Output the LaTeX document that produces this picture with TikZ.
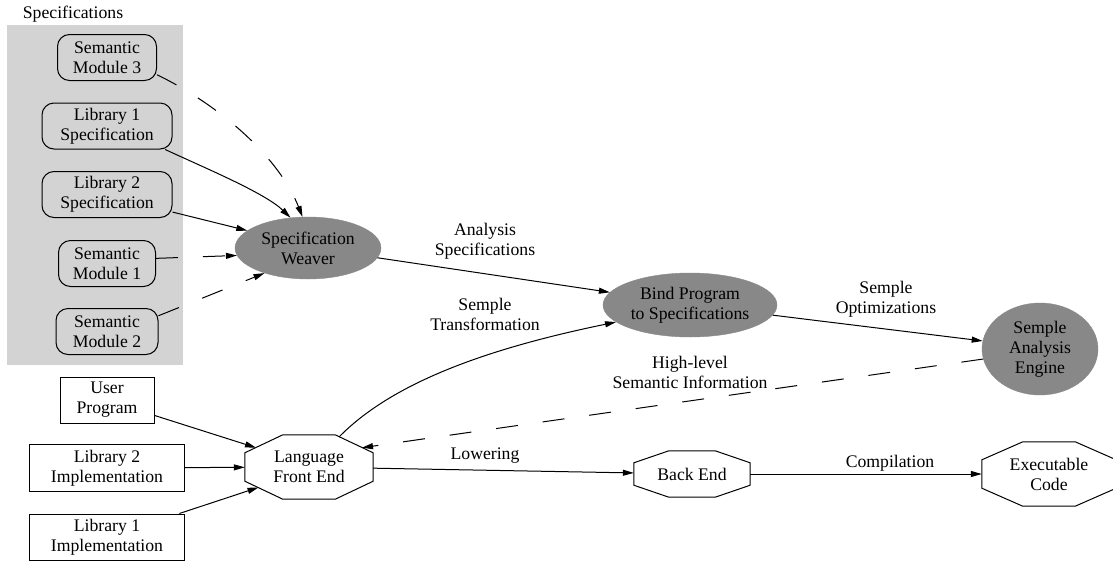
\documentclass[tikz,border=0pt]{standalone}
\usepackage{fontspec}
\setmainfont{Liberation Serif}
\usetikzlibrary{shapes.geometric,arrows.meta,calc}

\definecolor{panelgray}{RGB}{211,211,211}
\definecolor{enginegray}{RGB}{136,136,136}
\newcommand{\dfont}{\fontsize{17.7pt}{20pt}\selectfont}

% octagon outline around a node: #1 node, #2 chamfer width, #3 chamfer height
\newcommand{\octoutline}[3]{%
  \draw[octline] ($(#1.north west)+(#2,0)$) -- ($(#1.north east)+(-#2,0)$)
    -- ($(#1.north east)+(0,#3)$) -- ($(#1.south east)+(0,-#3)$)
    -- ($(#1.south east)+(-#2,0)$) -- ($(#1.south west)+(#2,0)$)
    -- ($(#1.south west)+(0,-#3)$) -- ($(#1.north west)+(0,#3)$) -- cycle;}

\tikzset{
  every node/.style={font=\dfont, align=center, inner sep=0pt},
  specbox/.style={draw, rounded corners=12pt, line width=1pt},
  implbox/.style={draw, rectangle, line width=1pt},
  engine/.style={ellipse, fill=enginegray, draw=enginegray},
  octbox/.style={rectangle},
  octline/.style={line width=1pt},
  flow/.style={line width=1pt, -{Triangle[length=11pt,width=6pt]}},
  dflow/.style={flow, dash pattern=on 22pt off 25pt},
}

\begin{document}
\begin{tikzpicture}[x=1pt,y=-1pt]
\useasboundingbox (0,0) rectangle (1113,560);

% specification cluster
\node[fill=panelgray, minimum width=176pt, minimum height=340pt] (panel) at (95,195) {};
\node (panellabel) at (73,14) {Specifications};

\node[specbox, minimum width=99pt,  minimum height=46pt] (sm3)  at (107,57.5)  {Semantic\\Module 3};
\node[specbox, minimum width=130pt, minimum height=46pt] (lib1s) at (107,126)  {Library 1\\Specification};
\node[specbox, minimum width=130pt, minimum height=46pt] (lib2s) at (107,194.5){Library 2\\Specification};
\node[specbox, minimum width=97pt,  minimum height=46pt] (sm1)  at (107,263.5) {Semantic\\Module 1};
\node[specbox, minimum width=102pt, minimum height=46pt] (sm2)  at (107,331.5) {Semantic\\Module 2};

% analysis engines
\node[engine, minimum width=146pt, minimum height=62pt] (weaver) at (308,248) {Specification\\Weaver};
\node[engine, minimum width=174pt, minimum height=64pt] (bind)   at (690,305) {Bind Program\\to Specifications};
\node[engine, minimum width=116pt, minimum height=92pt] (semple) at (1040,349) {Semple\\Analysis\\Engine};

% program inputs
\node[implbox, minimum width=94pt,  minimum height=46pt] (user) at (107,400) {User\\Program};
\node[implbox, minimum width=155pt, minimum height=47pt] (l2i)  at (107,468) {Library 2\\Implementation};
\node[implbox, minimum width=155pt, minimum height=46pt] (l1i)  at (107,537) {Library 1\\Implementation};

% compiler stages
\node[octbox, minimum width=128pt, minimum height=64pt] (lfe) at (309,467) {Language\\Front End};
\node[octbox, minimum width=116pt, minimum height=46pt] (be)  at (692,474) {Back End};
\node[octbox, minimum width=134pt, minimum height=64pt] (exe) at (1049,474) {Executable\\Code};
\octoutline{lfe}{38}{18}
\octoutline{be}{35}{12}
\octoutline{exe}{41}{18}

% edge labels
\node (labanalysis) at (485,241) {Analysis\\Specifications};
\node (labtransform) at (485,314) {Semple\\Transformation};
\node (labhigh) at (690,372) {High-level\\Semantic Information};
\node (laboptim) at (886,299) {Semple\\Optimizations};
\node (lablower) at (485,456) {Lowering};
\node (labcompile) at (890,463) {Compilation};

% specifications into the weaver
\draw[dflow] (sm3.-19) .. controls (225,108) and (280,160) .. (weaver.100);
\draw[flow] (lib1s.-22.7) .. controls (205,168) and (265,193) .. (weaver.120);
\draw[flow] (lib2s.-15.7) -- (weaver.164);
\draw[dflow] (sm1.6) -- (weaver.186);
\draw[dflow] (sm2.17) -- (weaver.210);

% analysis pipeline
\draw[flow] ($(lfe)+(30,-30)$) .. controls (390,385) and (480,350) .. (bind.193.5);
\draw[flow] (weaver.-8) -- (bind.171);
\draw[flow] (bind.-7) -- (semple.172);
\draw[dflow] (semple.190) -- ($(lfe)+(53,-19.3)$);

% program sources into the front end
\draw[flow] (user.-18) -- ($(lfe)+(-53,-19.3)$);
\draw[flow] (l2i) -- (lfe);
\draw[flow] (l1i.18.7) -- ($(lfe)+(-50.5,20.4)$);

% compilation
\draw[flow] (lfe) -- (be);
\draw[flow] (be) -- (exe);
\end{tikzpicture}
\end{document}
